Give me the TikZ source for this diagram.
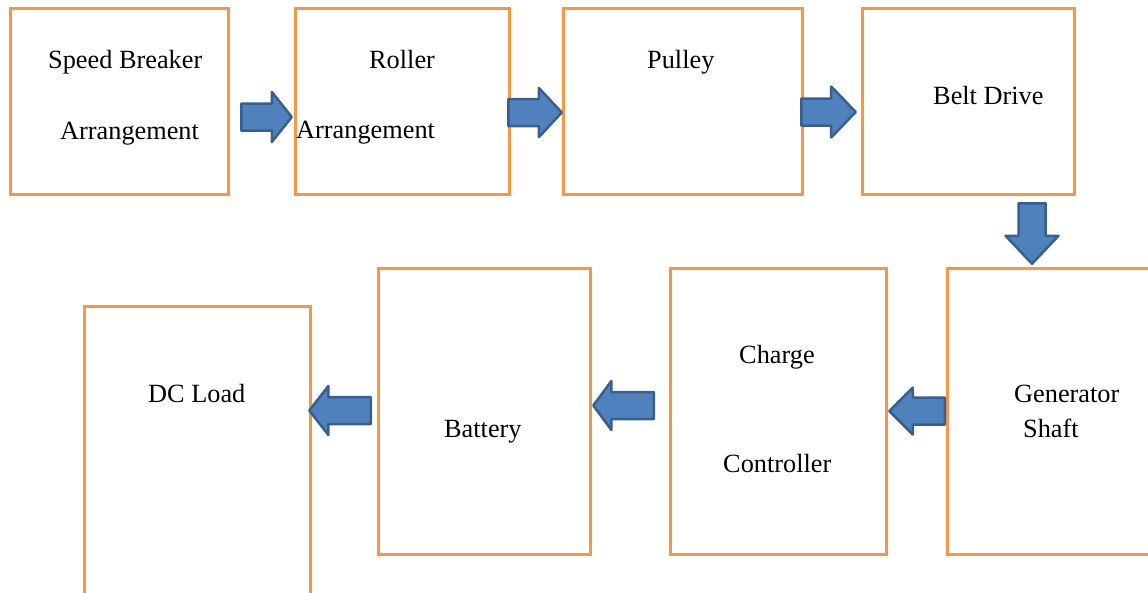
\documentclass[tikz,border=0pt]{standalone}
\usepackage{fontspec}
\setmainfont{Liberation Serif}
\usetikzlibrary{shapes.arrows}
\definecolor{boxorange}{HTML}{F79646}
\definecolor{arrfill}{HTML}{4F81BD}
\definecolor{arrdraw}{HTML}{3A5F8E}
\tikzset{
  blockbox/.style={draw=boxorange, line width=3pt},
  lbl/.style={anchor=base west, inner sep=0pt, font=\fontsize{26.3}{30}\selectfont},
  blockarrow/.style={single arrow, draw=arrdraw, fill=arrfill, line width=2.5pt,
    line join=round, inner xsep=0pt, inner ysep=12.25pt, outer sep=0pt, anchor=tip}
}
\begin{document}
\begin{tikzpicture}[x=1pt,y=-1pt]
\useasboundingbox (0,0) rectangle (1148,592);
\clip (0,0) rectangle (1148,592);
% boxes
\draw[blockbox] (10.5,8) rectangle (228.5,194) coordinate (b1);
\draw[blockbox] (295,8) rectangle (509,194) coordinate (b2);
\draw[blockbox] (563,8) rectangle (802.5,194) coordinate (b3);
\draw[blockbox] (862.5,8) rectangle (1074.5,194) coordinate (b4);
\draw[blockbox] (947,268) rectangle (1165,554) coordinate (b5);
\draw[blockbox] (670.5,268) rectangle (886.5,554) coordinate (b6);
\draw[blockbox] (378.7,268) rectangle (590.5,554) coordinate (b7);
\draw[blockbox] (84.5,306) rectangle (310,610) coordinate (b8);
% labels
\node[lbl] (t1a) at (48,68) {Speed Breaker};
\node[lbl] (t1b) at (60,139) {Arrangement};
\node[lbl] (t2a) at (369,68) {Roller};
\node[lbl] (t2b) at (296,138) {Arrangement};
\node[lbl] (t3) at (647,68) {Pulley};
\node[lbl] (t4) at (933,104) {Belt Drive};
\node[lbl] (t5a) at (1014,402) {Generator};
\node[lbl] (t5b) at (1023,437) {Shaft};
\node[lbl] (t6a) at (739,363) {Charge};
\node[lbl] (t6b) at (723,472) {Controller};
\node[lbl] (t7) at (444,437) {Battery};
\node[lbl] (t8) at (148,402) {DC Load};
% block arrows
\node[blockarrow, minimum height=50.5pt,
  single arrow head extend=11.5pt, single arrow tip angle=103] (a1) at (291.75,117) {};
\node[blockarrow, minimum height=53.5pt,
  single arrow head extend=11pt, single arrow tip angle=94] (a2) at (561.75,112.5) {};
\node[blockarrow, minimum height=54.5pt,
  single arrow head extend=12pt, single arrow tip angle=92] (a3) at (855.75,112) {};
\node[blockarrow, rotate=270, minimum height=60.5pt,
  single arrow head extend=13pt, single arrow tip angle=87] (a4) at (1032,263.75) {};
\node[blockarrow, rotate=180, minimum height=55.5pt,
  single arrow head extend=10pt, single arrow tip angle=90] (a5) at (889.25,411) {};
\node[blockarrow, rotate=180, minimum height=60.5pt,
  single arrow head extend=11pt, single arrow tip angle=107] (a6) at (593.25,405.5) {};
\node[blockarrow, rotate=180, minimum height=61.5pt,
  single arrow head extend=11pt, single arrow tip angle=104] (a7) at (309.25,410.5) {};
\end{tikzpicture}
\end{document}
